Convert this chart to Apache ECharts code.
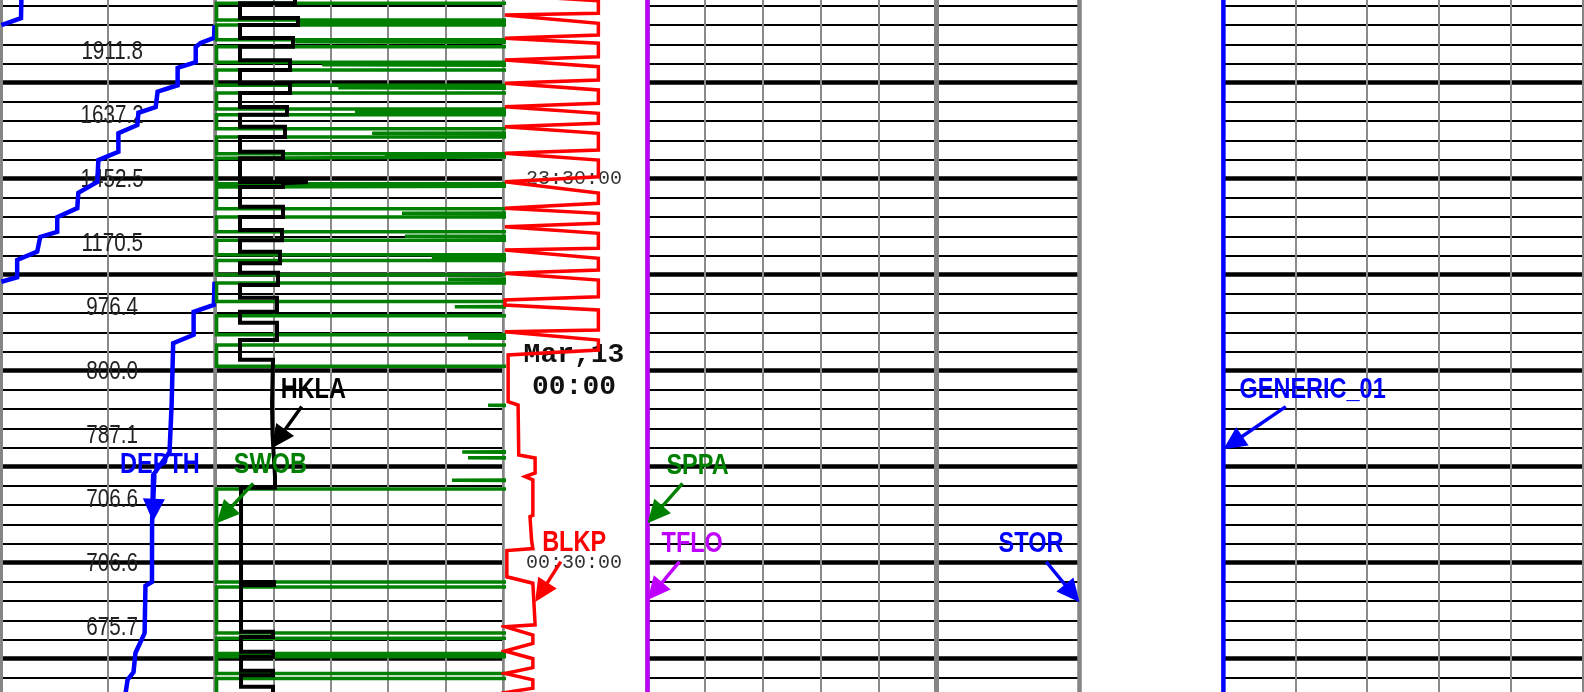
<!DOCTYPE html>
<html><head><meta charset="utf-8">
<script src="https://cdn.jsdelivr.net/npm/echarts@6/dist/echarts.min.js"></script>
<style>html,body{margin:0;padding:0;background:#fff;}#c{width:1584px;height:692px;}</style>
</head><body><div id="c"></div>
<script>
// Time is in minutes relative to Mar 13 00:00 (negative = Mar 12). Pairs are [time, value].
const T_MIN = -60, T_MAX = 51;

const DEPTH = [[-60,2095],[-55.1,2092],[-54.0,2000],[-52.0,1998],[-51.2,1935],[-50.6,1912],[-48.2,1911.8],
 [-47.3,1827],[-44.6,1827],[-43.6,1733],[-41.2,1724],[-40.3,1643],[-38.4,1638],[-37.1,1549],[-34.2,1549],
 [-32.9,1455],[-29.5,1450],[-27.8,1361],[-25.4,1356],[-24.0,1262],[-21.7,1262],[-20.9,1182],[-18.6,1168],
 [-17.3,1074],[-14.6,1074],[-13.9,1000],[-10.3,997],[-9.2,902],[-5.6,902],[-4.3,806],[5.1,799],[12.7,789],
 [16.3,712],[24.1,707],[33.0,706.6],[33.6,676],[41.0,672],[44.1,629],[47.1,620],[48.3,592],[51,580]];

const DEPTH_LABEL_T = [-50,-40,-30,-20,-10,0,10,20,30,40];
const DEPTH_LABEL_V = ['1911.8','1637.2','1452.5','1170.5','976.4','800.0','787.1','706.6','706.6','675.7'];

const TIME_LABEL_T = [-30, 0, 30];
const TIME_LABEL_V = ['23:30:00', 'Mar,13|00:00', '00:30:00'];

const HKLA = [[-60,137.6],[-57.4,137.6],[-57.4,41.8],
 [-55.1,41.8],[-55.1,142.9],[-54.0,142.9],[-54.0,41.8],
 [-52.0,41.8],[-52.0,134.1],[-50.6,134.1],[-50.6,41.8],
 [-48.5,41.8],[-48.5,128.9],[-47.0,128.9],[-47.0,41.8],
 [-44.9,41.8],[-44.9,128.9],[-43.4,128.9],[-43.4,41.8],
 [-41.2,41.8],[-41.2,123.7],[-40.0,123.7],[-40.0,41.8],
 [-38.1,41.8],[-38.1,120.2],[-36.5,120.2],[-36.5,41.8],
 [-34.2,41.8],[-34.2,116.7],[-33.2,116.7],[-33.2,41.8],
 [-29.5,41.8],[-29.5,160.3],[-29.3,116.7],[-28.7,116.7],[-28.7,41.8],
 [-25.6,41.8],[-25.6,116.7],[-24.0,116.7],[-24.0,41.8],
 [-22.0,41.8],[-22.0,115.0],[-20.4,115.0],[-20.4,41.8],
 [-18.6,41.8],[-18.6,111.5],[-16.8,111.5],[-16.8,41.8],
 [-15.3,41.8],[-15.3,108.0],[-13.4,108.0],[-13.4,41.8],
 [-11.4,41.8],[-11.4,106.3],[-9.2,106.3],[-9.2,41.8],
 [-7.5,41.8],[-7.5,106.3],[-4.8,106.3],[-4.8,41.8],
 [-1.7,41.8],[-1.7,99.3],[5.0,97.6],[10.0,98.5],[16.6,102.8],[18.3,102.8],[18.3,43.6],
 [33.0,43.6],[33.0,101],[33.5,101],[33.5,43.6],
 [40.8,43.6],[40.8,99.3],[41.6,99.3],[41.6,43.6],
 [43.9,43.6],[43.9,99.3],[44.7,99.3],[44.7,43.6],
 [46.9,43.6],[46.9,99.3],[47.6,99.3],[47.6,43.6],
 [49.4,43.6],[49.4,99.3],[51,99.3]];

// 60 = off scale (beyond the right side of the track)
const SWOB = [[-60,60],
 [-57.4,60],[-57.4,0.1],[-54.8,0.1],[-54.8,60],[-54.54,60],[-54.5,14.3],[-54.42,60],
 [-54.0,60],[-54.0,0.1],[-51.7,0.1],[-51.7,60],[-51.44,60],[-51.4,13.8],[-51.32,60],
 [-50.6,60],[-50.6,0.1],[-48.2,0.1],[-48.2,60],[-47.84,60],[-47.8,18.5],[-47.72,60],
 [-47.0,60],[-47.0,0.1],[-44.6,0.1],[-44.6,60],[-44.24,60],[-44.2,21.3],[-44.12,60],
 [-43.4,60],[-43.4,0.1],[-40.9,0.1],[-40.9,60],[-40.44,60],[-40.4,24.2],[-40.32,60],
 [-40.0,60],[-40.0,0.1],[-37.8,0.1],[-37.8,60],[-37.14,60],[-37.1,27.2],[-37.02,60],
 [-36.5,60],[-36.5,0.1],[-33.9,0.1],[-33.9,60],[-33.54,60],[-33.5,29.4],[-33.42,60],
 [-33.2,60],[-33.2,0.1],[-29.2,0.1],[-29.2,60],[-28.94,60],[-28.9,28.9],[-28.82,60],
 [-28.7,60],[-28.7,0.1],[-25.3,0.1],[-25.3,60],[-24.64,60],[-24.6,32.4],[-24.52,60],
 [-24.0,60],[-24.0,0.1],[-21.7,0.1],[-21.7,60],[-21.04,60],[-21.0,32.9],[-20.92,60],
 [-20.4,60],[-20.4,0.1],[-18.1,0.1],[-18.1,60],[-17.64,60],[-17.6,37.6],[-17.52,60],
 [-17.2,60],[-17.2,0.1],[-15.0,0.1],[-15.0,60],[-14.34,60],[-14.3,40.4],[-14.22,60],
 [-13.7,60],[-13.7,0.1],[-10.8,0.1],[-10.8,60],[-10.04,60],[-10.0,41.6],[-9.92,60],
 [-8.6,60],[-8.6,0.1],[-5.6,0.1],[-5.6,60],[-5.14,60],[-5.1,43.9],[-5.02,60],
 [-4.0,60],[-4.0,0.1],[-0.7,0.1],[-0.7,60],
 [5.36,60],[5.4,47.4],[5.48,60],[12.66,60],[12.7,42.9],[12.78,60],
 [13.56,60],[13.6,43.9],[13.68,60],[17.06,60],[17.1,41.1],[17.18,60],
 [18.5,60],[18.5,0.1],[33.0,0.1],[33.0,60],
 [33.8,60],[33.8,0.1],[41.0,0.1],[41.0,60],
 [41.8,60],[41.8,0.1],[44.2,0.1],[44.2,60],
 [44.7,60],[44.7,0.1],[47.3,0.1],[47.3,60],
 [48.1,60],[48.1,0.1],[51,0.1]];

const BLKP = [[-60,29.7],[-59.2,29.7],[-58.7,0.6],[-57.8,29.7],[-55.84,29.7],[-55.58,0.6],[-54.28,29.7],
 [-52.45,29.7],[-51.94,0.6],[-51.16,29.7],
 [-49.06,29.7],[-48.55,0.6],[-47.50,29.7],[-45.42,29.7],[-44.91,0.6],[-43.86,29.7],[-41.78,29.7],[-41.25,0.6],
 [-40.22,29.7],[-38.66,29.7],[-38.13,0.6],[-37.09,29.7],[-34.48,29.7],[-33.97,0.6],[-32.92,29.7],[-30.31,29.7],
 [-29.53,0.6],[-27.77,29.7],[-26.16,29.7],[-25.38,0.6],[-24.59,29.7],[-23.03,29.7],[-22.50,0.6],[-21.47,29.7],
 [-19.13,29.7],[-18.86,0.6],[-17.56,29.7],[-15.73,29.7],[-15.22,0.6],[-14.17,29.7],[-11.56,29.7],[-11.05,0.6],
 [-10.27,0.6],[-9.48,29.7],[-6.36,29.7],[-6.09,0.6],[-4.80,29.7],[-3.23,29.7],[-2.45,1.6],[4.84,1.6],[5.36,4.7],
 [13.17,4.9],[13.64,10.0],[15.98,10.0],[16.56,6.9],[17.08,9.3],[22.6,9.3],[22.8,8.4],[26.5,8.9],[27.8,9.3],
 [28.1,1.2],[32.2,1.2],[33.2,9.3],[39.7,10.0],[40.0,0.6],[41.3,9.3],[42.6,9.3],[43.8,0.6],[45.0,9.3],[46.4,9.3],
 [47.3,0.6],[48.3,9.3],[49.6,9.3],[50.3,0.6],[51,5]];

const SPPA = [[-60,0],[51,0]];
const TFLO = [[-60,0],[51,0]];
const STOR = [[-60,80],[51,80]];      // off scale (beyond track maximum)
const GENERIC_01 = [[-60,0],[51,0]];

// ---------- layout ----------
const TOP = -13.3, H = 710.4;
const TRACKS = [
  {left:1.4, right:214.5},
  {left:216, right:503},
  {left:503, right:647.5},
  {left:647.5, right:936},
  {left:936, right:1079.5},
  {left:1223.4, right:1583}
];
const SANS = "'Liberation Sans','Arimo',Arial,sans-serif";
const MONO = "'Liberation Mono','DejaVu Sans Mono',monospace";
const NARROW_SCALE = 0.81;
const GRAY = '#858585';

const grid = TRACKS.map(t => ({left:t.left, top:TOP, width:t.right - t.left, height:H, show:false, containLabel:false, outerBoundsMode:'none'}));

const yAxis = [];
const Y = [];
function timeAxis(gi, extra) {
  const a = Object.assign({gridIndex:gi, type:'value', inverse:true, min:T_MIN, max:T_MAX,
    axisLine:{show:false, onZero:false}, axisTick:{show:false}, axisLabel:{show:false}, splitLine:{show:false}}, extra);
  yAxis.push(a); return yAxis.length - 1;
}
const BORDERS = [[3,3.5],[0,2.5],[0,0],[2,5],[0,4.5],[0,2]];
[0,1,2,3,4,5].forEach(gi => {
  if (gi === 2) {
    Y[gi] = timeAxis(gi, {position:'left', interval:30,
      axisLabel:{show:true, inside:true, margin:71, align:'center', fontFamily:MONO, fontSize:20, color:'#333',
        formatter: v => { const i = TIME_LABEL_T.indexOf(Math.round(v)); if (i < 0) return '';
          const s = TIME_LABEL_V[i]; return s.indexOf('|') >= 0 ? s.split('|').map(p => '{b|' + p + '}').join('\n') : s; },
        rich:{b:{fontFamily:MONO, fontWeight:'bold', fontSize:28, lineHeight:32, color:'#111'}}}});
    return;
  }
  Y[gi] = timeAxis(gi, {position:'left', interval:3, splitLine:{show:true, lineStyle:{color:'#000', width:1.8}}});
  timeAxis(gi, {position:'right', interval:15, splitLine:{show:true, lineStyle:{color:'#000', width:4.5}}});
  const b = BORDERS[gi];
  if (b[0]) timeAxis(gi, {position:'left', z:1, axisLine:{show:true, onZero:false, lineStyle:{color:GRAY, width:b[0]}}});
  if (b[1]) timeAxis(gi, {position:'right', z:1, axisLine:{show:true, onZero:false, lineStyle:{color:GRAY, width:b[1]}}});
});

function xAx(gi, min, max, interval, pos) {
  const a = {gridIndex:gi, type:'value', min:min, max:max, position:pos || 'bottom',
    axisLine:{show:false, onZero:false}, axisTick:{show:false}, axisLabel:{show:false},
    splitLine:{show:!!interval, lineStyle:{color:'#8a8a8a', width:2}}};
  if (interval) a.interval = interval;
  return a;
}
const xAxis = [
  xAx(0, 0, 1000, 500),          // 0 DEPTH
  xAx(1, 0, 500, 100),           // 1 HKLA
  xAx(1, 0, 50, 0, 'top'),       // 2 SWOB
  xAx(2, 0, 45, 0),              // 3 BLKP
  xAx(3, 0, 5000, 1000),         // 4 SPPA
  xAx(3, 0, 1000, 0, 'top'),     // 5 TFLO
  xAx(4, 0, 50, 0),              // 6 STOR
  xAx(5, 0, 100, 20)             // 7 GENERIC_01
];

const xy = arr => arr.map(p => [p[1], p[0]]);
function wrapDepth(arr) {
  const out = [];
  arr.forEach((p, i) => {
    const t = p[0], d = p[1];
    const m = d - 1000 * Math.floor(d / 1000);
    if (m === 0 && i > 0 && i < arr.length - 1) { out.push([0, t]); out.push(['-', '-']); out.push([1000, t]); }
    else out.push([m, t]);
  });
  return out;
}
function line(name, xi, gi, data, color, width) {
  return {name:name, type:'line', xAxisIndex:xi, yAxisIndex:Y[gi], data:data, showSymbol:false, symbol:'none',
    connectNulls:false, clip:true, silent:true, animation:false, z:2,
    lineStyle:{color:color, width:width, join:'miter', cap:'butt'}};
}
const series = [
  line('DEPTH', 0, 0, wrapDepth(DEPTH), '#0000ff', 4.5),
  line('SWOB', 2, 1, xy(SWOB), '#008000', 3.5),
  line('HKLA', 1, 1, xy(HKLA), '#000000', 4),
  line('BLKP', 3, 2, xy(BLKP), '#ff0000', 3.5),
  line('SPPA', 4, 3, xy(SPPA), '#008000', 4),
  line('TFLO', 5, 3, xy(TFLO), '#bf00ff', 4.5),
  line('STOR', 6, 4, xy(STOR), '#0000ff', 4),
  line('GENERIC_01', 7, 5, xy(GENERIC_01), '#0000ff', 4.5)
];

const chart = echarts.init(document.getElementById('c'), null, {renderer:'canvas'});
chart.setOption({backgroundColor:'#fff', animation:false, grid:grid, xAxis:xAxis, yAxis:yAxis, series:series});

const graphic = [];
// depth read-outs in the depth track (narrow type), placed on the time scale
DEPTH_LABEL_T.forEach((t, i) => {
  const y = chart.convertToPixel({yAxisIndex:Y[0]}, t);
  graphic.push({type:'text', z:1, silent:true, x:TRACKS[0].left + 110.8, y:y + 0.8, scaleX:NARROW_SCALE,
    style:{text:DEPTH_LABEL_V[i], fill:'#222', font:'25.5px ' + SANS, align:'center', verticalAlign:'middle',
      textAlign:'center', textVerticalAlign:'middle'}});
});

// curve name annotations: tip in data coords, start / label as pixel offsets from tip
const ANNOTS = [
  {name:'HKLA', color:'#000000', xa:1, g:1, v:97, t:12.1, s:[30,-41.6], l:[41.6,-59]},
  {name:'SWOB', color:'#008000', xa:2, g:1, v:0.1, t:23.84, s:[36.6,-40], l:[53.8,-59.3]},
  {name:'DEPTH', color:'#0000ff', xa:0, g:0, v:711, t:23.6, s:[2,-47], l:[7,-57.5]},
  {name:'SPPA', color:'#008000', xa:4, g:3, v:0, t:23.84, s:[35,-40], l:[50,-57.8]},
  {name:'TFLO', color:'#bf00ff', xa:5, g:3, v:0, t:35.83, s:[32,-38.3], l:[44.7,-57.5]},
  {name:'STOR', color:'#0000ff', xa:6, g:4, v:50, t:36.19, s:[-33.3,-40.6], l:[-48.5,-59.8]},
  {name:'BLKP', color:'#ff0000', xa:3, g:2, v:10, t:36.14, s:[25.7,-40.3], l:[39,-59.7]},
  {name:'GENERIC_01', color:'#0000ff', xa:7, g:5, v:0, t:12.28, s:[62.4,-42.6], l:[89.2,-60]}
];
ANNOTS.forEach(a => {
  const P = chart.convertToPixel({xAxisIndex:a.xa, yAxisIndex:Y[a.g]}, [a.v, a.t]);
  const S = [P[0] + a.s[0], P[1] + a.s[1]];
  const dx = P[0] - S[0], dy = P[1] - S[1], L = Math.sqrt(dx*dx + dy*dy);
  const ux = dx / L, uy = dy / L, len = 23, hw = 11;
  const B = [P[0] - ux*len, P[1] - uy*len];
  graphic.push({type:'line', z:100, silent:true, shape:{x1:S[0], y1:S[1], x2:B[0] + ux*3, y2:B[1] + uy*3},
    style:{stroke:a.color, lineWidth:3.4}});
  graphic.push({type:'polygon', z:100, silent:true,
    shape:{points:[[P[0], P[1]], [B[0] - uy*hw, B[1] + ux*hw], [B[0] + uy*hw, B[1] - ux*hw]]},
    style:{fill:a.color}});
  graphic.push({type:'text', z:101, silent:true, x:P[0] + a.l[0], y:P[1] + a.l[1] + 1, scaleX:NARROW_SCALE,
    style:{text:a.name, fill:a.color, font:'bold 29px ' + SANS, align:'center', verticalAlign:'middle',
      textAlign:'center', textVerticalAlign:'middle'}});
});
chart.setOption({graphic:graphic});
</script>
</body></html>
